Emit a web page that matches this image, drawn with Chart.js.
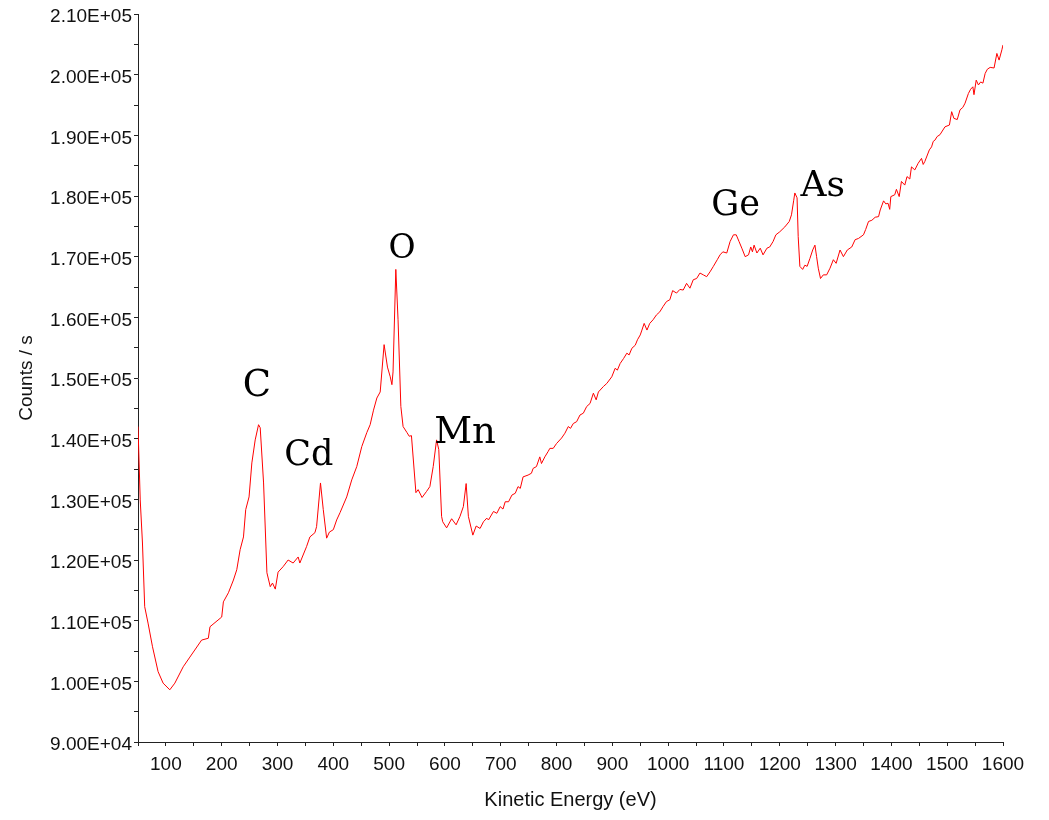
<!DOCTYPE html>
<html>
<head>
<meta charset="utf-8">
<title>Auger spectrum</title>
<script src="https://cdn.jsdelivr.net/npm/chart.js@4.4.1/dist/chart.umd.min.js"></script>
<style>
  html, body { margin: 0; padding: 0; background: #fff; }
  #wrap { width: 1049px; height: 820px; }
</style>
</head>
<body>
<div id="wrap"><canvas id="myChart" width="1049" height="820"></canvas></div>
<script>
// Kinetic energy (eV) of each sampled point
const energy = [
  50, 54, 58, 62, 68, 76, 86, 95, 107, 116,
  131, 143, 164, 176, 179, 200, 203, 212, 221, 227,
  233, 239, 243, 249, 254, 260, 266, 269, 275, 281,
  287, 291, 296, 301, 310, 319, 328, 337, 340, 352,
  358, 367, 370, 377, 382, 388, 393, 400, 406, 412,
  424, 433, 442, 451, 460, 466, 472, 478, 484, 491,
  497, 502, 505, 507, 512, 516, 521, 525, 532, 536,
  540, 548, 552, 559, 567, 573, 579, 585, 589, 594,
  596, 603, 612, 620, 627, 633, 638, 642, 650, 656,
  663, 669, 675, 678, 687, 693, 699, 704, 708, 714,
  720, 726, 731, 735, 740, 749, 755, 758, 764, 770,
  773, 779, 785, 788, 794, 800, 809, 815, 821, 825,
  830, 836, 842, 848, 854, 860, 866, 871, 875, 884,
  890, 899, 905, 909, 914, 920, 926, 930, 935, 941,
  945, 950, 953, 957, 962, 967, 973, 979, 985, 991,
  997, 1003, 1008, 1015, 1021, 1027, 1033, 1039, 1045, 1051,
  1057, 1063, 1069, 1075, 1081, 1088, 1093, 1098, 1105, 1111,
  1117, 1122, 1127, 1132, 1138, 1144, 1148, 1151, 1154, 1159,
  1165, 1170, 1177, 1182, 1188, 1193, 1200, 1209, 1217, 1221,
  1225, 1227, 1231, 1233, 1236, 1241, 1245, 1249, 1254, 1259,
  1263, 1266, 1269, 1273, 1278, 1284, 1290, 1296, 1301, 1308,
  1314, 1321, 1329, 1335, 1341, 1350, 1354, 1359, 1365, 1371,
  1377, 1380, 1386, 1390, 1394, 1397, 1399, 1406, 1409, 1414,
  1418, 1424, 1428, 1433, 1436, 1442, 1448, 1454, 1457, 1460,
  1468, 1472, 1475, 1478, 1482, 1487, 1496, 1504, 1508, 1512,
  1518, 1523, 1528, 1532, 1538, 1542, 1546, 1548, 1552, 1556,
  1560, 1564, 1568, 1572, 1577, 1584, 1589, 1593, 1598, 1600
];

// Counts per second at each energy
const counts = [
  142000, 129900, 122800, 112300, 109600, 105700, 101600, 99700, 98600, 99700,
  102400, 104000, 106800, 107100, 109000, 110600, 113100, 114600, 116700, 118400,
  121700, 123800, 128300, 130400, 136000, 139800, 142300, 141800, 132700, 117900,
  115600, 116200, 115200, 118000, 118900, 120000, 119500, 120500, 119500, 122200,
  123800, 124500, 125500, 132700, 128300, 123600, 124600, 125000, 126600, 127800,
  130400, 133200, 135400, 138700, 141000, 142300, 144700, 146700, 147700, 155500,
  151800, 150200, 148900, 151000, 167900, 159600, 145300, 142000, 141000, 140400,
  140500, 131100, 131600, 130300, 131300, 132100, 135400, 139800, 138200, 127200,
  126300, 125300, 126800, 125800, 127200, 128800, 132600, 127200, 124100, 125600,
  125200, 126300, 126900, 126600, 128000, 127700, 128800, 128400, 129600, 129600,
  130700, 131000, 132100, 131800, 133700, 134000, 134300, 135100, 135400, 137000,
  135900, 137000, 137900, 138400, 138400, 139200, 140100, 140900, 142000, 141700,
  142500, 142800, 143900, 144200, 145300, 145800, 147500, 146400, 147700, 148600,
  149100, 150200, 151600, 151300, 152400, 153200, 154100, 153800, 154900, 155400,
  156300, 157100, 157900, 159000, 157900, 159000, 159600, 160400, 160900, 161800,
  162600, 162900, 164400, 164000, 164600, 164500, 165600, 164800, 166200, 166400,
  167300, 167000, 166700, 167500, 168400, 169500, 170300, 170800, 170600, 172500,
  173600, 173600, 172500, 171400, 170000, 170300, 171600, 170800, 171900, 170600,
  171400, 170300, 171400, 171600, 172500, 173600, 174100, 174900, 175800, 176900,
  179300, 180500, 179700, 173300, 168400, 167900, 168600, 168400, 169700, 171100,
  171900, 170000, 168100, 166400, 167000, 167000, 168100, 169500, 168900, 171100,
  170000, 171100, 171600, 172800, 173000, 173600, 174500, 175800, 176000, 176500,
  176600, 177700, 179200, 178700, 178800, 177800, 179900, 180200, 181100, 179900,
  182400, 181800, 183200, 182800, 184800, 184300, 185400, 186200, 185200, 185700,
  187600, 188100, 189000, 189200, 189800, 190100, 191400, 191700, 193900, 192800,
  192600, 194200, 194600, 195300, 196900, 197600, 198000, 196700, 199100, 198300,
  198800, 198600, 200200, 200900, 201200, 201100, 203500, 202400, 204100, 204900
];

// Element labels over the peaks
const peakNames = ["C", "Cd", "O", "Mn", "Ge", "As"];
const peakEnergy = [263, 356, 523, 636, 1121, 1277];
const peakCounts = [147000, 135700, 169800, 139300, 176900, 180000];
const peakFontSize = [37, 35, 33, 37, 35, 36];

const xTicks = { min: 50, max: 1600, step: 50 };
const yTicks = { min: 90000, max: 210000, step: 5000 };

function sci(v) {
  const e = Math.floor(Math.log10(v));
  const m = v / Math.pow(10, e);
  return m.toFixed(2) + "E+" + String(e).padStart(2, "0");
}

const peakLabels = {
  id: "peakLabels",
  afterDatasetsDraw(chart) {
    const c = chart.ctx;
    const xs = chart.scales.x, ys = chart.scales.y;
    c.save();
    c.fillStyle = "#000";
    c.textAlign = "center";
    c.textBaseline = "alphabetic";
    peakNames.forEach((name, i) => {
      c.font = peakFontSize[i] + "px 'DejaVu Serif', serif";
      c.fillText(name, xs.getPixelForValue(peakEnergy[i]), ys.getPixelForValue(peakCounts[i]));
    });
    c.restore();
  }
};

const ctx = document.getElementById("myChart").getContext("2d");
new Chart(ctx, {
  type: "line",
  data: {
    datasets: [{
      data: energy.map((e, i) => ({ x: e, y: counts[i] })),
      borderColor: "#ff0000",
      borderWidth: 1,
      pointRadius: 0,
      tension: 0,
      fill: false
    }]
  },
  options: {
    responsive: false,
    animation: false,
    devicePixelRatio: 1,
    layout: { padding: { top: 14, right: 46, bottom: 0, left: 0 } },
    plugins: { legend: { display: false }, tooltip: { enabled: false } },
    scales: {
      x: {
        type: "linear",
        min: xTicks.min,
        max: xTicks.max,
        afterFit(s) { s.height = 78; },
        border: { color: "#222", width: 1 },
        grid: { drawOnChartArea: false, tickLength: 4, color: "#222" },
        ticks: {
          stepSize: xTicks.step,
          autoSkip: false,
          maxRotation: 0,
          padding: 7,
          color: "#111",
          font: { family: "'Liberation Sans', Arial", size: 19 },
          callback: v => (v % 100 === 0 ? String(v) : "")
        },
        title: {
          display: true,
          text: "Kinetic Energy (eV)",
          color: "#111",
          padding: 8,
          font: { family: "'Liberation Sans', Arial", size: 20 }
        }
      },
      y: {
        min: yTicks.min,
        max: yTicks.max,
        afterFit(s) { s.width = 138; },
        border: { color: "#222", width: 1 },
        grid: { drawOnChartArea: false, tickLength: 4, color: "#222" },
        ticks: {
          stepSize: yTicks.step,
          autoSkip: false,
          padding: 2,
          labelOffset: 3,
          color: "#111",
          font: { family: "'Liberation Sans', Arial", size: 19 },
          callback: v => (v % 10000 === 0 ? sci(v) : "")
        },
        title: {
          display: true,
          text: "Counts / s",
          color: "#111",
          padding: 15,
          font: { family: "'Liberation Sans', Arial", size: 19 }
        }
      }
    }
  },
  plugins: [peakLabels]
});
</script>
</body>
</html>
